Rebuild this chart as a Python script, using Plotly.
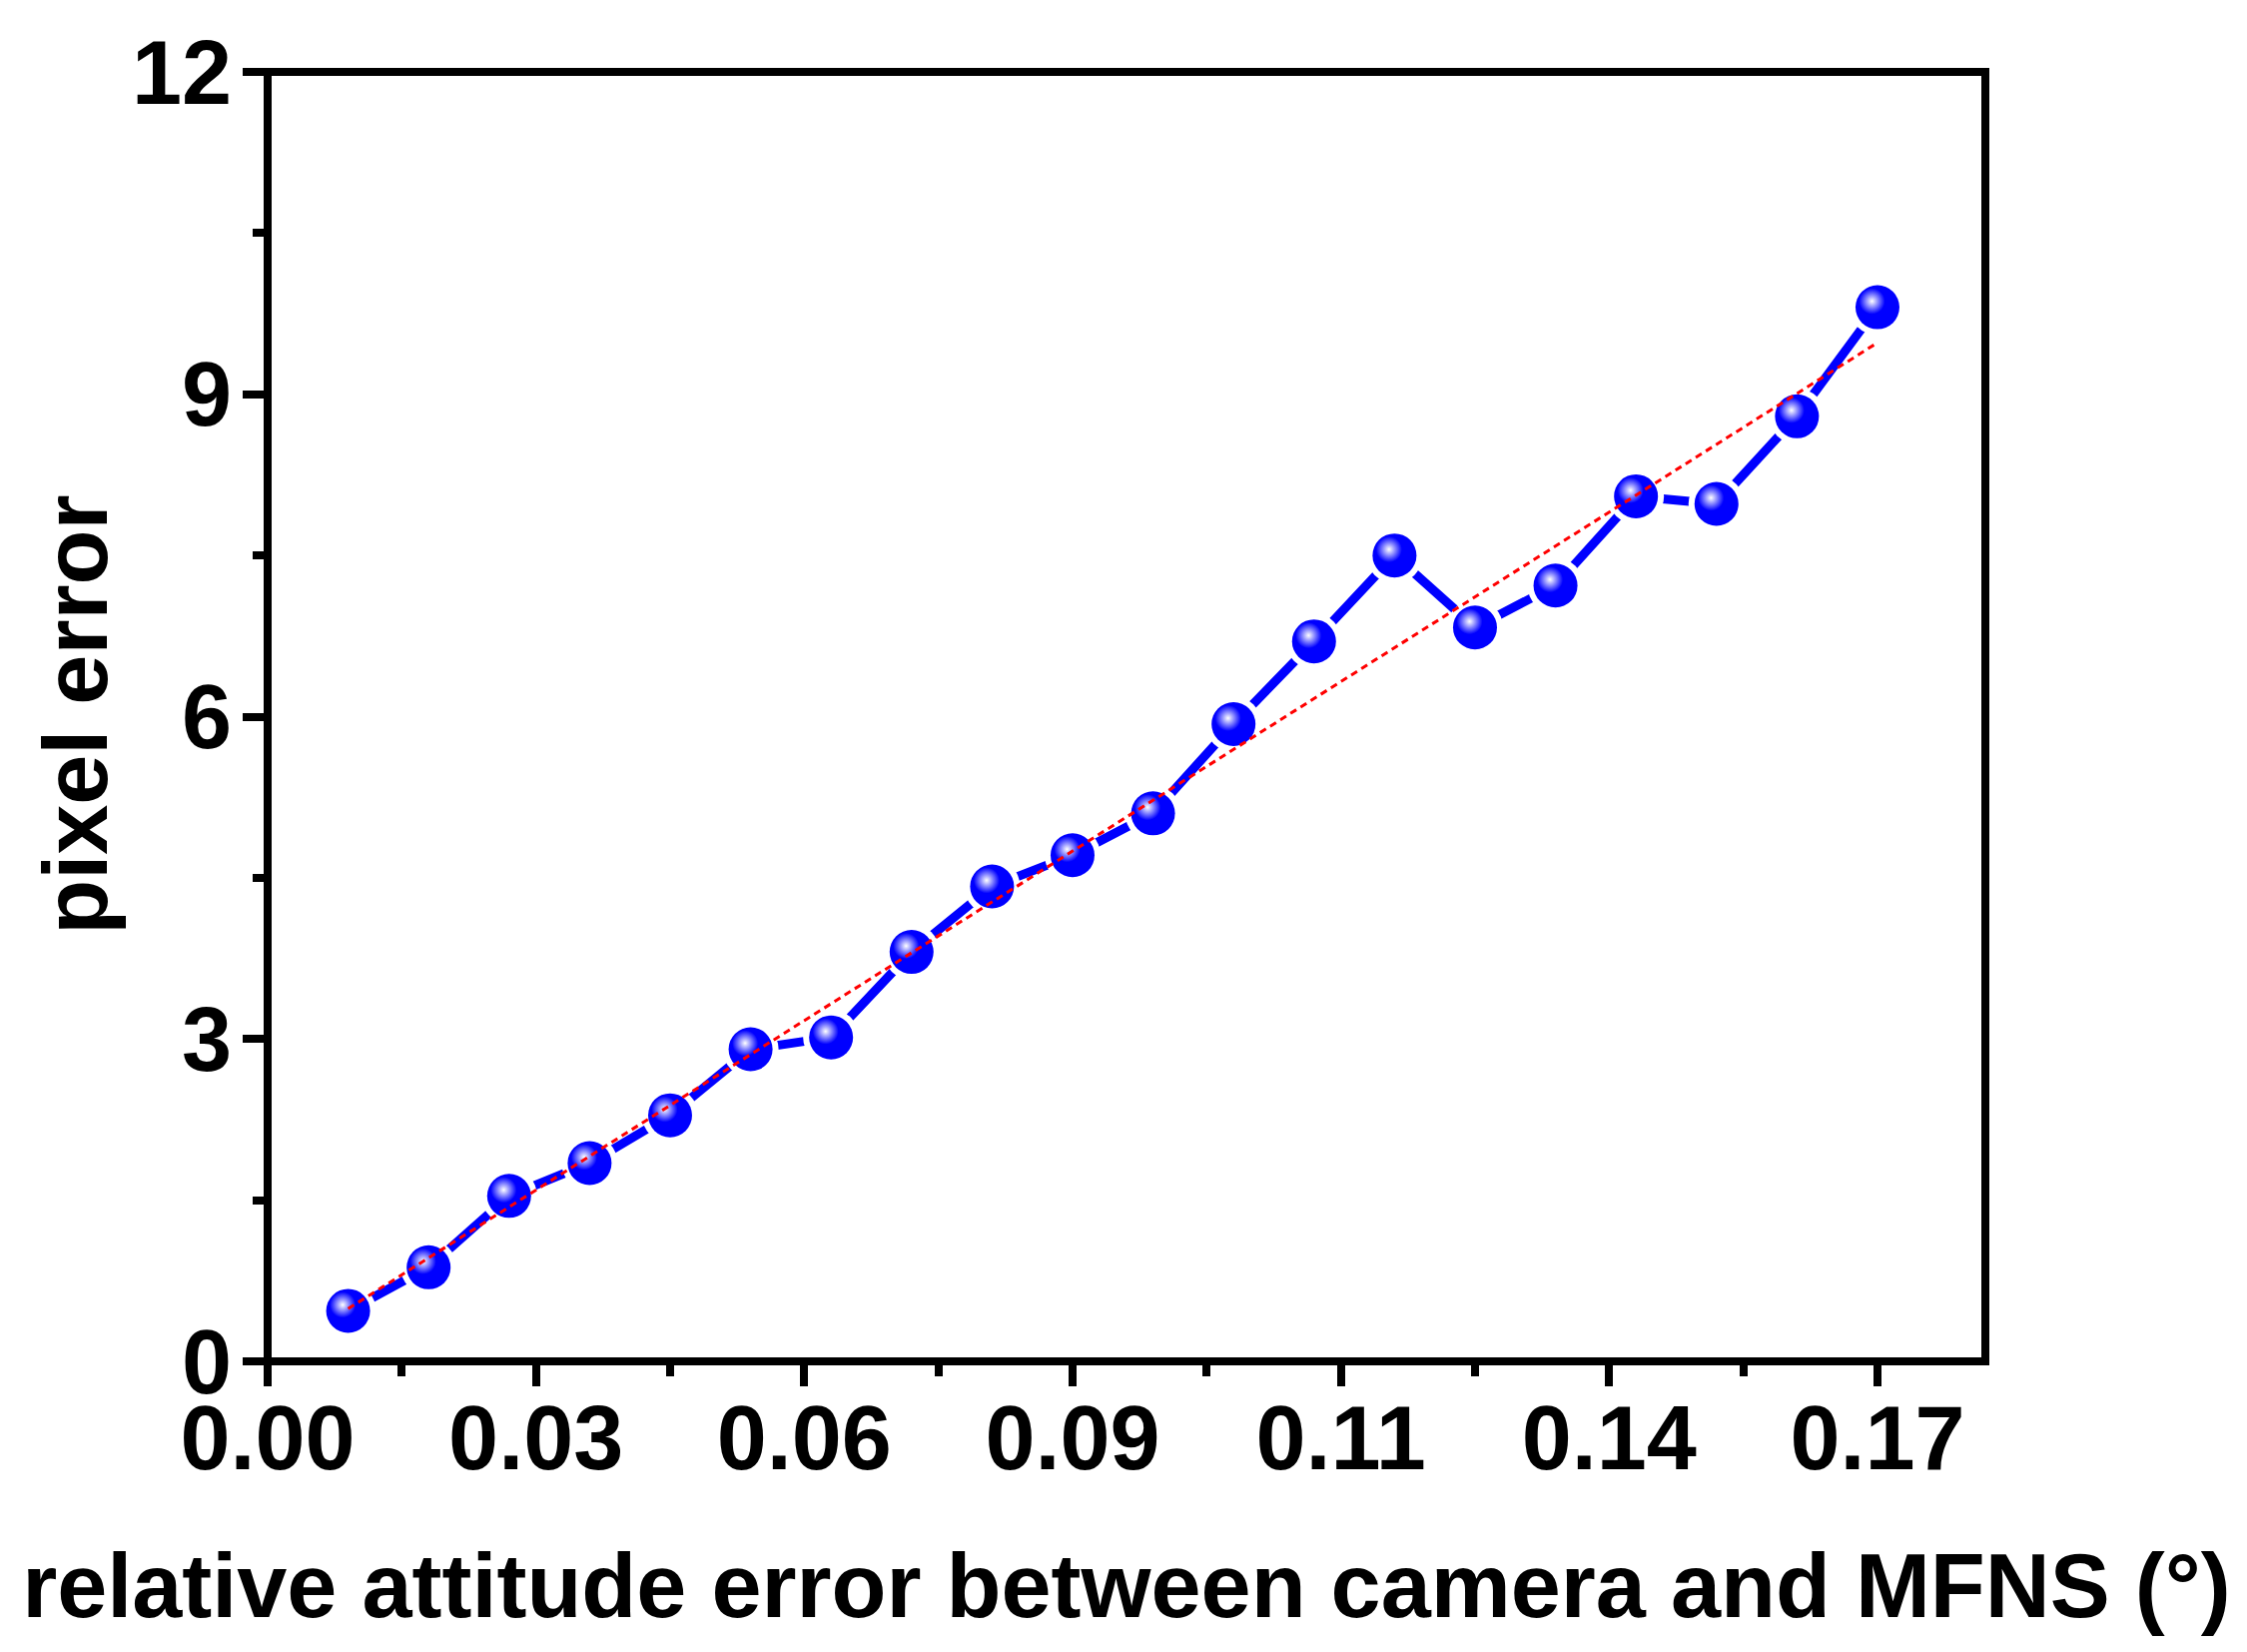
import plotly.graph_objects as go

# ---- data ----
x_vals = [0.00855, 0.0171, 0.02565, 0.0342, 0.04275, 0.0513, 0.05985, 0.0684, 0.07695, 0.0855,
          0.09405, 0.1026, 0.11115, 0.1197, 0.12825, 0.1368, 0.14535, 0.1539, 0.16245, 0.171]
pixel_error = [0.47, 0.875, 1.54, 1.845, 2.29, 2.905, 3.015, 3.81, 4.42, 4.71,
               5.10, 5.93, 6.70, 7.50, 6.83, 7.22, 8.05, 7.98, 8.795, 9.81]
fit_x = [0.00855, 0.171]
fit_y = [0.49, 9.48]

x_tickvals = [0.0, 0.0285, 0.057, 0.0855, 0.114, 0.1425, 0.171]
x_ticktext = ["0.00", "0.03", "0.06", "0.09", "0.11", "0.14", "0.17"]
y_tickvals = [0, 3, 6, 9, 12]
y_ticktext = ["0", "3", "6", "9", "12"]

x_title = "relative attitude error between camera and MFNS (°)"
y_title = "pixel error"

# ---- style ----
FONT = "Liberation Sans, Arial, sans-serif"
BLUE = "#0000ff"
X_RANGE = [0.0, 0.18246]
Y_RANGE = [0.0, 12.0]
# highlight offset (a few pixels up-left), expressed as axis-range shift
DX = 0.00058
DY = 0.056

fig = go.Figure()

# connecting line
fig.add_trace(go.Scatter(x=x_vals, y=pixel_error, mode="lines",
                         line=dict(color=BLUE, width=9), hoverinfo="skip", showlegend=False))
# white gap around symbols
fig.add_trace(go.Scatter(x=x_vals, y=pixel_error, mode="markers",
                         marker=dict(color="white", size=56, line=dict(width=0)),
                         hoverinfo="skip", showlegend=False))
# blue spheres
fig.add_trace(go.Scatter(x=x_vals, y=pixel_error, mode="markers",
                         marker=dict(color=BLUE, size=44, line=dict(width=0)),
                         showlegend=False))
# specular highlight (overlay axes shifted a few px)
fig.add_trace(go.Scatter(x=x_vals, y=pixel_error, mode="markers", xaxis="x2", yaxis="y2",
                         marker=dict(color=BLUE, size=26, line=dict(width=0),
                                     gradient=dict(type="radial", color="white")),
                         hoverinfo="skip", showlegend=False))
# red dotted linear fit on top
fig.add_trace(go.Scatter(x=fit_x, y=fit_y, mode="lines", xaxis="x3", yaxis="y3",
                         line=dict(color="#ff0000", width=3, dash="7px,5px"),
                         hoverinfo="skip", showlegend=False))

tickfont = dict(family=FONT, size=90, color="black", weight="bold")

fig.update_layout(
    width=2242, height=1646,
    margin=dict(l=260, r=262, t=64, b=291),
    paper_bgcolor="white", plot_bgcolor="white",
    showlegend=False,
    xaxis=dict(range=X_RANGE, showgrid=False, zeroline=False, showline=False,
               tickmode="array", tickvals=x_tickvals, ticktext=x_ticktext,
               ticks="outside", ticklen=24, tickwidth=8, tickcolor="black",
               tickfont=tickfont, ticklabelstandoff=-25,
               minor=dict(tickmode="linear", tick0=0, dtick=0.01425, ticks="outside",
                          ticklen=14, tickwidth=8, tickcolor="black", showgrid=False),
               title=dict(text=x_title, standoff=66,
                          font=dict(family=FONT, size=90, color="black", weight="bold"))),
    yaxis=dict(range=Y_RANGE, showgrid=False, zeroline=False, showline=False,
               tickmode="array", tickvals=y_tickvals, ticktext=y_ticktext,
               ticks="outside", ticklen=24, tickwidth=8, tickcolor="black",
               tickfont=tickfont, ticklabelstandoff=-7,
               minor=dict(tickmode="linear", tick0=0, dtick=1.5, ticks="outside",
                          ticklen=14, tickwidth=8, tickcolor="black", showgrid=False)),
    xaxis2=dict(overlaying="x", range=[X_RANGE[0] + DX, X_RANGE[1] + DX], visible=False),
    yaxis2=dict(overlaying="y", range=[Y_RANGE[0] - DY, Y_RANGE[1] - DY], visible=False),
    xaxis3=dict(overlaying="x", range=X_RANGE, visible=False),
    yaxis3=dict(overlaying="y", range=Y_RANGE, visible=False),
    shapes=[dict(type="rect", xref="paper", yref="paper", x0=0, y0=0, x1=1, y1=1,
                 line=dict(color="black", width=8), fillcolor="rgba(0,0,0,0)", layer="above")],
    annotations=[dict(text=y_title, textangle=-90, xref="paper", yref="paper",
                      x=-0.0815, y=0.5012, xanchor="right", yanchor="middle",
                      showarrow=False,
                      font=dict(family=FONT, size=90, color="black", weight="bold"))],
)

fig.write_html("out.html")
